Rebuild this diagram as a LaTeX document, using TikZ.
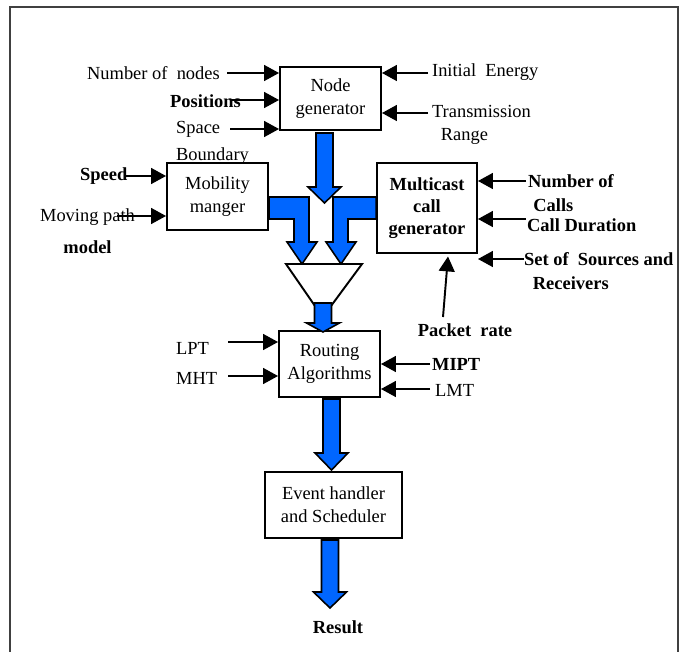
\documentclass[tikz,border=0pt]{standalone}
\usepackage{fontspec}
\setmainfont{Liberation Serif}
\usetikzlibrary{arrows.meta}

\newcommand{\fatdown}[4]{%
  \filldraw[fat] (#1-8.5,#2) -- (#1+8.5,#2) -- (#1+8.5,#3) -- (#1+16.5,#3) -- (#1,#4) -- (#1-16.5,#3) -- (#1-8.5,#3) -- cycle;}

\begin{document}
\begin{tikzpicture}[x=0.02cm,y=-0.02cm]

	\definecolor{flowblue}{RGB}{0,102,255}

	\tikzstyle{edge} = [draw, line width=1.1pt, -{Triangle[length=8.5pt,width=9pt]}]
	\tikzstyle{fat} = [draw=black, line width=0.9pt, fill=flowblue, line join=miter]
	\tikzset{lbl/.style = {font=\fontsize{10.5}{13}\selectfont, inner sep=1pt}}
	\tikzset{blbl/.style = {font=\fontsize{10.5}{13}\selectfont\bfseries, inner sep=1pt}}

	\useasboundingbox (0,0) rectangle (686,652);
	\draw[line width=0.7pt, black!75] (10,652) -- (10,7) -- (678,7) -- (678,652);

	\tikzset{block/.style = {shape=rectangle, draw, line width=1.1pt, fill=white, align=center, inner sep=2pt, font=\fontsize{10.5}{13}\selectfont}}
	\node[block, minimum width=2.02cm, minimum height=1.26cm] (ng) at (330.5,98.5) {Node\\generator};
	\node[block, minimum width=2.02cm, minimum height=1.34cm] (mm) at (217.5,196.5) {Mobility\\manger};
	\node[block, minimum width=2.00cm, minimum height=1.80cm, font=\fontsize{10.5}{12.5}\selectfont\bfseries] (mc) at (427,208) {Multicast\\call\\generator};
	\node[block, minimum width=2.02cm, minimum height=1.32cm] (rt) at (329.5,364) {Routing\\Algorithms};
	\node[block, minimum width=2.74cm, minimum height=1.32cm] (ev) at (333.5,505) {Event handler\\and Scheduler};

	\node[lbl, anchor=west] (nnodes) at (85,73) {Number of~ nodes};
	\node[blbl, anchor=west] (pos) at (168,101) {Positions};
	\node[lbl, anchor=west, align=left] (space) at (174,143) {Space\\[2pt]Boundary};
	\node[lbl, anchor=west] (energy) at (430,72) {Initial~ Energy};
	\node[lbl, anchor=west, align=left] (trans) at (430,125) {Transmission\\[0.5pt]\hspace*{5pt}Range};
	\node[blbl, anchor=west] (speed) at (78,176) {Speed};
	\node[lbl, anchor=west, align=center] (moving) at (38,231) {Moving path\\[5.5pt]{\bfseries model}};
	\node[blbl, anchor=west, align=left] (ncalls) at (526,193) {Number of\\[0.5pt]\hspace*{3pt}Calls};
	\node[blbl, anchor=west] (duration) at (525,225) {Call Duration};
	\node[blbl, anchor=west, align=left] (sources) at (522,271) {Set of~ Sources and\\[0.5pt]\hspace*{5pt}Receivers};
	\node[blbl] (packet) at (465,330) {Packet~ rate};
	\node[lbl, anchor=west] (lpt) at (174,348) {LPT};
	\node[lbl, anchor=west] (mht) at (174,378) {MHT};
	\node[blbl, anchor=west] (mipt) at (430,364) {MIPT};
	\node[lbl, anchor=west] (lmt) at (433,390) {LMT};
	\node[blbl] (result) at (338,627) {Result};

	\coordinate (nnodes-a) at (227,73);
	\coordinate (pos-a) at (232,100);
	\coordinate (space-a) at (230,129);
	\coordinate (energy-a) at (428,73);
	\coordinate (trans-a) at (428,113);
	\coordinate (speed-a) at (125,176);
	\coordinate (moving-a) at (117,216);
	\coordinate (ncalls-a) at (526,181);
	\coordinate (duration-a) at (526,219);
	\coordinate (sources-a) at (524,259);
	\coordinate (packet-a) at (443,317);
	\coordinate (lpt-a) at (228,342);
	\coordinate (mht-a) at (228,376);
	\coordinate (mipt-a) at (430,364);
	\coordinate (lmt-a) at (430,389);

	\draw[edge] (nnodes-a) to (ng.west |- nnodes-a);
	\draw[edge] (pos-a) to (ng.west |- pos-a);
	\draw[edge] (space-a) to (ng.west |- space-a);
	\draw[edge] (energy-a) to (ng.east |- energy-a);
	\draw[edge] (trans-a) to (ng.east |- trans-a);
	\draw[edge] (speed-a) to (mm.west |- speed-a);
	\draw[edge] (moving-a) to (mm.west |- moving-a);
	\draw[edge] (ncalls-a) to (mc.east |- ncalls-a);
	\draw[edge] (duration-a) to (mc.east |- duration-a);
	\draw[edge] (sources-a) to (mc.east |- sources-a);
	\draw[edge] (packet-a) to ([xshift=0.42cm,yshift=-0.05cm]mc.south);
	\draw[edge] (lpt-a) to (rt.west |- lpt-a);
	\draw[edge] (mht-a) to (rt.west |- mht-a);
	\draw[edge] (mipt-a) to (rt.east |- mipt-a);
	\draw[edge] (lmt-a) to (rt.east |- lmt-a);

	\fatdown{324.5}{133}{187}{203}
	\filldraw[fat] (mm.east |- 0,197) -- (309,197) -- (309,242) -- (317,242) -- (302,264) -- (287,242) -- (294,242) -- (294,219) -- (mm.east |- 0,219) -- cycle;
	\filldraw[fat] (mc.west |- 0,197) -- (333,197) -- (333,242) -- (326,242) -- (341,264) -- (356,242) -- (348,242) -- (348,219) -- (mc.west |- 0,219) -- cycle;
	\filldraw[draw=black, line width=1.1pt, fill=white] (286,264) -- (362,264) -- (331,306) -- (315,306) -- cycle;
	\fatdown{323}{303}{323}{332}
	\fatdown{331.5}{399}{453}{470}
	\fatdown{330}{540}{592}{608}

\end{tikzpicture}
\end{document}
